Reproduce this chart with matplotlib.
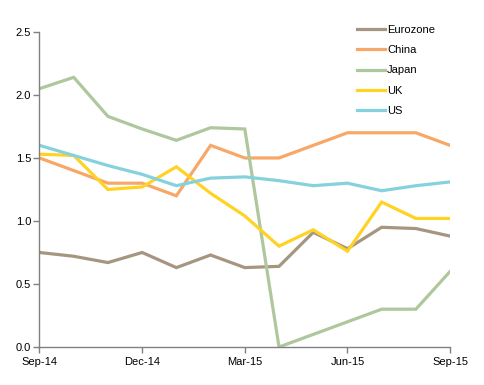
import matplotlib
matplotlib.use('Agg')
import matplotlib.pyplot as plt

plt.rcParams['font.family'] = ['Liberation Sans', 'DejaVu Sans']

months = ['Sep-14', 'Oct-14', 'Nov-14', 'Dec-14', 'Jan-15', 'Feb-15', 'Mar-15',
          'Apr-15', 'May-15', 'Jun-15', 'Jul-15', 'Aug-15', 'Sep-15']
eurozone = [0.75, 0.72, 0.67, 0.75, 0.63, 0.73, 0.63, 0.64, 0.91, 0.78, 0.95, 0.94, 0.88]
china = [1.50, 1.40, 1.30, 1.30, 1.20, 1.60, 1.50, 1.50, 1.60, 1.70, 1.70, 1.70, 1.60]
japan = [2.05, 2.14, 1.83, 1.73, 1.64, 1.74, 1.73, 0.00, 0.10, 0.20, 0.30, 0.30, 0.60]
uk = [1.53, 1.52, 1.25, 1.27, 1.43, 1.22, 1.04, 0.80, 0.93, 0.76, 1.15, 1.02, 1.02]
us = [1.60, 1.52, 1.44, 1.37, 1.28, 1.34, 1.35, 1.32, 1.28, 1.30, 1.24, 1.28, 1.31]

series = [('Eurozone', eurozone, '#A69580'),
          ('China', china, '#F7A868'),
          ('Japan', japan, '#AFC79D'),
          ('UK', uk, '#FFD324'),
          ('US', us, '#85D2DE')]

fig = plt.figure(figsize=(4.84, 3.85), dpi=100)
ax = fig.add_axes([0.0816, 0.0987, 0.8484, 0.8183])

x = list(range(len(months)))
for name, vals, col in series:
    ax.plot(x, vals, color=col, lw=2.3, label=name, solid_joinstyle='miter')

ax.set_xlim(0, 12)
ax.set_ylim(0, 2.5)
ax.set_xticks(x[::3])
ax.set_xticklabels(months[::3])
ax.set_yticks([0, 0.5, 1.0, 1.5, 2.0, 2.5])
ax.set_yticklabels(['0.0', '0.5', '1.0', '1.5', '2.0', '2.5'])

for s in ['top', 'right']:
    ax.spines[s].set_visible(False)
for s in ['left', 'bottom']:
    ax.spines[s].set_color('#808080')
    ax.spines[s].set_linewidth(1.0)
ax.tick_params(colors='#808080', labelcolor='black', labelsize=8, length=4, width=1)
ax.tick_params(axis='y', pad=2)
ax.tick_params(axis='x', pad=3)

fig.legend(loc='upper left', bbox_to_anchor=(0.738, 0.935), frameon=False,
           fontsize=8, handlelength=2.5, handletextpad=0.2, labelspacing=0.92,
           borderpad=0, borderaxespad=0)

fig.savefig('out.png', dpi=100)
